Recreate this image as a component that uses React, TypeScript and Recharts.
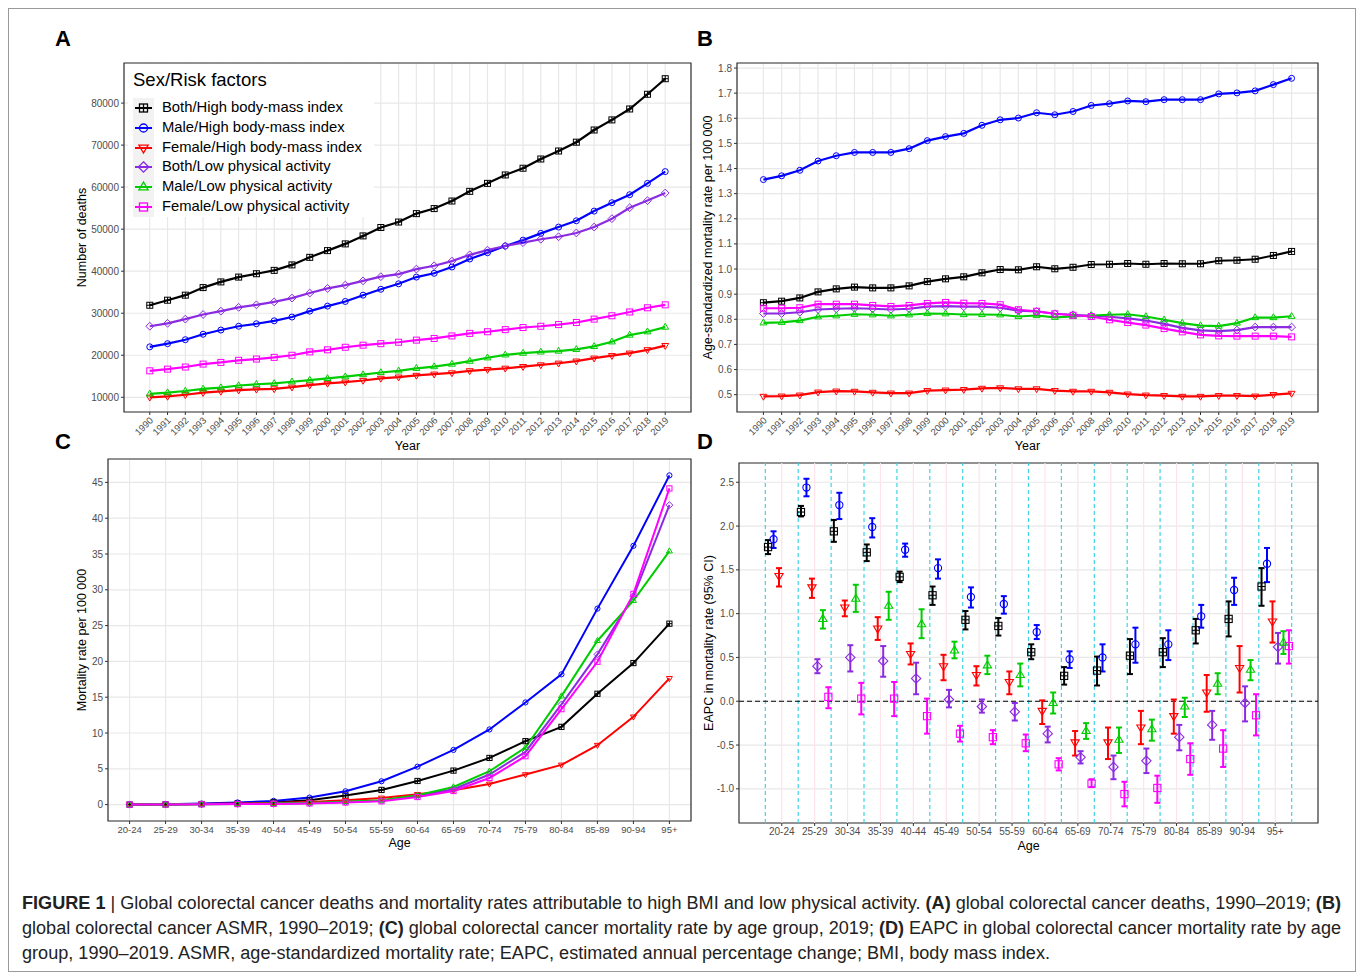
import React from 'react';
import {
  LineChart, Line, XAxis, YAxis, CartesianGrid, ScatterChart, Scatter, ErrorBar,
  ReferenceLine, ReferenceArea,
} from 'recharts';

const FONT = '"Liberation Sans", Arial, Helvetica, sans-serif';

// ---------- categories ----------
const years = [1990, 1991, 1992, 1993, 1994, 1995, 1996, 1997, 1998, 1999, 2000, 2001, 2002, 2003, 2004,
  2005, 2006, 2007, 2008, 2009, 2010, 2011, 2012, 2013, 2014, 2015, 2016, 2017, 2018, 2019];
const ages = ['20-24', '25-29', '30-34', '35-39', '40-44', '45-49', '50-54', '55-59', '60-64', '65-69',
  '70-74', '75-79', '80-84', '85-89', '90-94', '95+'];
const seriesNames = ['Both/High body-mass index', 'Male/High body-mass index', 'Female/High body-mass index',
  'Both/Low physical activity', 'Male/Low physical activity', 'Female/Low physical activity'];
const seriesColors = ['#000000', '#0000FF', '#FF0000', '#8A2BE2', '#00CD00', '#FF00FF'];
const seriesShapes = ['squarePlus', 'circle', 'triDown', 'diamond', 'triUp', 'square'];

// ---------- Panel A: number of deaths ----------
const deathsBothHBMI = [31900, 33100, 34300, 36100, 37450, 38600, 39400, 40200, 41500, 43300, 44900, 46500, 48400, 50400, 51700, 53700, 54900, 56700, 59000, 60900, 62900, 64500, 66700, 68600, 70700, 73600, 76000, 78600, 82100, 85800];
const deathsMaleHBMI = [22000, 22760, 23700, 25000, 26000, 26900, 27500, 28200, 29100, 30500, 31700, 32800, 34300, 35700, 37000, 38600, 39500, 41000, 42900, 44400, 46000, 47400, 49000, 50500, 52000, 54300, 56300, 58200, 60900, 63700];
const deathsFemaleHBMI = [10000, 10200, 10600, 11100, 11400, 11700, 11900, 12000, 12400, 12900, 13300, 13600, 14000, 14500, 14800, 15200, 15500, 15800, 16300, 16600, 16900, 17300, 17700, 18100, 18600, 19300, 19900, 20500, 21300, 22300];
const deathsBothLPA = [26900, 27600, 28600, 29700, 30500, 31400, 32000, 32700, 33600, 34800, 35900, 36700, 37700, 38700, 39300, 40500, 41300, 42400, 43900, 45000, 46000, 46800, 47600, 48200, 49100, 50500, 52500, 55100, 56800, 58600];
const deathsMaleLPA = [10800, 11100, 11500, 12000, 12300, 12800, 13100, 13300, 13700, 14100, 14500, 14900, 15400, 15900, 16300, 16900, 17300, 17900, 18600, 19400, 20100, 20500, 20800, 21000, 21400, 22100, 23200, 24800, 25600, 26700];
const deathsFemaleLPA = [16300, 16700, 17200, 17900, 18300, 18800, 19100, 19500, 20000, 20800, 21300, 21900, 22400, 22760, 23100, 23600, 24000, 24600, 25200, 25600, 26100, 26600, 26900, 27300, 27800, 28600, 29400, 30300, 31300, 32000];
const deathsTicks = [10000, 20000, 30000, 40000, 50000, 60000, 70000, 80000];

// ---------- Panel B: ASMR ----------
const asmrBothHBMI = [0.866, 0.872, 0.885, 0.909, 0.921, 0.928, 0.925, 0.925, 0.933, 0.950, 0.961, 0.969, 0.985, 0.998, 0.997, 1.009, 1.001, 1.007, 1.018, 1.019, 1.022, 1.019, 1.022, 1.021, 1.021, 1.033, 1.035, 1.039, 1.054, 1.070];
const asmrMaleHBMI = [1.356, 1.371, 1.393, 1.430, 1.451, 1.464, 1.464, 1.464, 1.479, 1.511, 1.527, 1.540, 1.572, 1.594, 1.601, 1.622, 1.614, 1.627, 1.651, 1.658, 1.669, 1.666, 1.674, 1.674, 1.674, 1.697, 1.701, 1.709, 1.734, 1.759];
const asmrFemaleHBMI = [0.493, 0.494, 0.498, 0.510, 0.514, 0.513, 0.509, 0.506, 0.506, 0.516, 0.518, 0.520, 0.525, 0.527, 0.523, 0.523, 0.516, 0.513, 0.513, 0.509, 0.502, 0.498, 0.496, 0.493, 0.493, 0.496, 0.496, 0.494, 0.500, 0.505];
const asmrBothLPA = [0.823, 0.823, 0.828, 0.839, 0.842, 0.844, 0.842, 0.839, 0.842, 0.850, 0.852, 0.850, 0.850, 0.846, 0.834, 0.831, 0.822, 0.818, 0.814, 0.810, 0.804, 0.795, 0.782, 0.766, 0.756, 0.753, 0.757, 0.769, 0.769, 0.769];
const asmrMaleLPA = [0.786, 0.788, 0.795, 0.810, 0.814, 0.820, 0.818, 0.814, 0.818, 0.823, 0.822, 0.819, 0.819, 0.818, 0.811, 0.815, 0.808, 0.811, 0.815, 0.818, 0.820, 0.811, 0.798, 0.785, 0.775, 0.773, 0.785, 0.807, 0.807, 0.812];
const asmrFemaleLPA = [0.844, 0.844, 0.846, 0.860, 0.860, 0.860, 0.855, 0.851, 0.855, 0.863, 0.867, 0.864, 0.863, 0.858, 0.838, 0.832, 0.822, 0.816, 0.811, 0.798, 0.787, 0.777, 0.763, 0.750, 0.738, 0.734, 0.733, 0.733, 0.733, 0.730];
const asmrTicks = [0.5, 0.6, 0.7, 0.8, 0.9, 1.0, 1.1, 1.2, 1.3, 1.4, 1.5, 1.6, 1.7, 1.8];

// ---------- Panel C: mortality rate by age, 2019 ----------
const rateBothHBMI = [0.01, 0.03, 0.08, 0.17, 0.33, 0.6, 1.26, 2.05, 3.3, 4.75, 6.52, 8.86, 10.86, 15.48, 19.77, 25.27];
const rateMaleHBMI = [0.01, 0.05, 0.14, 0.3, 0.52, 0.98, 1.86, 3.26, 5.3, 7.64, 10.5, 14.27, 18.19, 27.37, 36.14, 45.98];
const rateFemaleHBMI = [0.01, 0.03, 0.08, 0.14, 0.24, 0.38, 0.6, 0.93, 1.44, 2.0, 2.89, 4.2, 5.54, 8.3, 12.26, 17.63];
const rateBothLPA = [0, 0.02, 0.05, 0.08, 0.12, 0.2, 0.35, 0.55, 1.2, 2.14, 4.2, 7.36, 14.0, 20.99, 29.1, 41.83];
const rateMaleLPA = [0, 0.02, 0.05, 0.09, 0.14, 0.23, 0.4, 0.6, 1.3, 2.46, 4.66, 7.97, 15.15, 22.89, 28.49, 35.4];
const rateFemaleLPA = [0, 0.02, 0.04, 0.07, 0.1, 0.17, 0.3, 0.46, 1.06, 1.9, 3.72, 6.76, 13.33, 19.95, 29.43, 44.16];
const rateTicks = [0, 5, 10, 15, 20, 25, 30, 35, 40, 45];

// ---------- Panel D: EAPC (95% CI) ----------
const eapcBothHBMI = [1.76, 2.16, 1.94, 1.70, 1.42, 1.21, 0.93, 0.86, 0.56, 0.29, 0.35, 0.52, 0.56, 0.81, 0.94, 1.31];
const lowBothHBMI = [1.68, 2.11, 1.82, 1.60, 1.36, 1.10, 0.82, 0.75, 0.48, 0.19, 0.18, 0.31, 0.39, 0.66, 0.74, 1.09];
const upBothHBMI = [1.84, 2.23, 2.07, 1.79, 1.48, 1.31, 1.03, 0.95, 0.65, 0.39, 0.51, 0.71, 0.72, 0.94, 1.14, 1.52];
const eapcMaleHBMI = [1.85, 2.44, 2.24, 1.99, 1.73, 1.52, 1.19, 1.11, 0.79, 0.48, 0.50, 0.65, 0.65, 0.97, 1.27, 1.57];
const lowMaleHBMI = [1.75, 2.34, 2.08, 1.87, 1.65, 1.40, 1.07, 1.00, 0.71, 0.38, 0.34, 0.44, 0.47, 0.84, 1.10, 1.36];
const upMaleHBMI = [1.94, 2.54, 2.38, 2.09, 1.80, 1.62, 1.30, 1.20, 0.87, 0.57, 0.65, 0.84, 0.81, 1.10, 1.41, 1.75];
const eapcFemaleHBMI = [1.43, 1.30, 1.07, 0.83, 0.54, 0.40, 0.30, 0.22, -0.11, -0.47, -0.47, -0.30, -0.17, 0.10, 0.38, 0.91];
const lowFemaleHBMI = [1.31, 1.18, 0.97, 0.70, 0.42, 0.24, 0.18, 0.08, -0.26, -0.62, -0.66, -0.49, -0.37, -0.12, 0.10, 0.67];
const upFemaleHBMI = [1.52, 1.40, 1.15, 0.96, 0.66, 0.53, 0.40, 0.34, 0.01, -0.34, -0.30, -0.11, 0.02, 0.30, 0.63, 1.14];
// low physical activity: age groups 25-29 .. 95+
const eapcBothLPA = [0.40, 0.50, 0.46, 0.26, 0.02, -0.06, -0.12, -0.37, -0.64, -0.75, -0.68, -0.41, -0.27, -0.02, 0.62];
const lowBothLPA = [0.32, 0.34, 0.28, 0.08, -0.07, -0.13, -0.22, -0.47, -0.71, -0.89, -0.82, -0.56, -0.44, -0.23, 0.43];
const upBothLPA = [0.48, 0.64, 0.63, 0.44, 0.13, 0.02, -0.02, -0.29, -0.57, -0.62, -0.54, -0.27, -0.11, 0.17, 0.78];
const eapcMaleLPA = [0.94, 1.17, 1.09, 0.88, 0.58, 0.41, 0.30, -0.02, -0.34, -0.44, -0.32, -0.06, 0.20, 0.36, 0.67];
const lowMaleLPA = [0.83, 1.02, 0.93, 0.72, 0.49, 0.31, 0.17, -0.14, -0.43, -0.59, -0.45, -0.18, 0.08, 0.24, 0.54];
const upMaleLPA = [1.04, 1.33, 1.25, 1.05, 0.68, 0.52, 0.43, 0.10, -0.25, -0.30, -0.21, 0.04, 0.32, 0.47, 0.80];
const eapcFemaleLPA = [0.05, 0.03, 0.03, -0.17, -0.37, -0.41, -0.48, -0.72, -0.94, -1.06, -0.99, -0.66, -0.54, -0.16, 0.63];
const lowFemaleLPA = [-0.08, -0.15, -0.17, -0.37, -0.46, -0.49, -0.57, -0.79, -0.98, -1.20, -1.16, -0.84, -0.75, -0.39, 0.43];
const upFemaleLPA = [0.16, 0.21, 0.22, 0.03, -0.28, -0.33, -0.38, -0.65, -0.89, -0.92, -0.85, -0.48, -0.33, 0.08, 0.81];
const eapcTicks = [-1.0, -0.5, 0.0, 0.5, 1.0, 1.5, 2.0, 2.5];

// ---------- tables built from arrays ----------
const deathsSeries = [deathsBothHBMI, deathsMaleHBMI, deathsFemaleHBMI, deathsBothLPA, deathsMaleLPA, deathsFemaleLPA];
const asmrSeries = [asmrBothHBMI, asmrMaleHBMI, asmrFemaleHBMI, asmrBothLPA, asmrMaleLPA, asmrFemaleLPA];
const rateSeries = [rateBothHBMI, rateMaleHBMI, rateFemaleHBMI, rateBothLPA, rateMaleLPA, rateFemaleLPA];
const rowsA = years.map((yr, i) => {
  const r: any = { x: yr };
  deathsSeries.forEach((s, j) => { r['s' + j] = s[i]; });
  return r;
});
const rowsB = years.map((yr, i) => {
  const r: any = { x: yr };
  asmrSeries.forEach((s, j) => { r['s' + j] = s[i]; });
  return r;
});
const rowsC = ages.map((_, i) => {
  const r: any = { x: i + 1 };
  rateSeries.forEach((s, j) => { r['s' + j] = s[i]; });
  return r;
});
const eapcSets = [
  [eapcBothHBMI, lowBothHBMI, upBothHBMI, 0],
  [eapcMaleHBMI, lowMaleHBMI, upMaleHBMI, 0],
  [eapcFemaleHBMI, lowFemaleHBMI, upFemaleHBMI, 0],
  [eapcBothLPA, lowBothLPA, upBothLPA, 1],
  [eapcMaleLPA, lowMaleLPA, upMaleLPA, 1],
  [eapcFemaleLPA, lowFemaleLPA, upFemaleLPA, 1],
] as any[];
const dodge = 1 / 6;
const rowsD = eapcSets.map(([c, lo, up, start], j) =>
  (c as number[]).map((v, k) => ({
    x: k + 1 + start + (j - 2.5) * dodge,
    y: v,
    err: [v - lo[k], up[k] - v],
  })));

// ---------- drawing helpers ----------
function Marker({ cx, cy, shape, color, r, sw = 1 }: any) {
  if (cx == null || cy == null || isNaN(cx) || isNaN(cy)) return null;
  const common = { fill: 'none', stroke: color, strokeWidth: sw };
  switch (shape) {
    case 'squarePlus':
      return (
        <g>
          <rect x={cx - r} y={cy - r} width={2 * r} height={2 * r} {...common} />
          <line x1={cx - r} x2={cx + r} y1={cy} y2={cy} {...common} />
          <line x1={cx} x2={cx} y1={cy - r} y2={cy + r} {...common} />
        </g>
      );
    case 'square':
      return <rect x={cx - r} y={cy - r} width={2 * r} height={2 * r} {...common} />;
    case 'circle':
      return <circle cx={cx} cy={cy} r={r} {...common} />;
    case 'triDown':
      return <polygon points={`${cx - r * 1.15},${cy - r * 0.7} ${cx + r * 1.15},${cy - r * 0.7} ${cx},${cy + r * 1.25}`} {...common} />;
    case 'triUp':
      return <polygon points={`${cx - r * 1.15},${cy + r * 0.7} ${cx + r * 1.15},${cy + r * 0.7} ${cx},${cy - r * 1.25}`} {...common} />;
    case 'diamond':
      return <polygon points={`${cx},${cy - r * 1.3} ${cx + r * 1.3},${cy} ${cx},${cy + r * 1.3} ${cx - r * 1.3},${cy}`} {...common} />;
    default:
      return null;
  }
}

const xTitle = (text: string, dy: number) => (props: any) => {
  const vb = props.viewBox || {};
  const cx = vb.x + vb.width / 2;
  const cy = vb.y + dy;
  return <text x={cx} y={cy} textAnchor="middle" dominantBaseline="central" fontSize={12.5} fill="#000">{text}</text>;
};
const yTitle = (text: string, dx: number) => (props: any) => {
  const vb = props.viewBox || {};
  const cx = vb.x + dx;
  const cy = vb.y + vb.height / 2;
  return (
    <text x={cx} y={cy} transform={`rotate(-90 ${cx} ${cy})`} textAnchor="middle" dominantBaseline="central" fontSize={12.5} fill="#000">{text}</text>
  );
};

const YearTick = (props: any) => {
  const { x, y, payload } = props;
  const tx = x + 4;
  const ty = y + 4;
  return (
    <text x={tx} y={ty} transform={`rotate(-45 ${tx} ${ty})`} textAnchor="end" fontSize={9.5} fill="#4d4d4d">{payload.value}</text>
  );
};

const GRID = '#e8e8e8';
const BORDER = '#333333';
const TICK = { fontSize: 10, fill: '#4d4d4d' };

function Letter({ x, y, t }: any) {
  return <div style={{ position: 'absolute', left: x, top: y, fontSize: 22, fontWeight: 'bold', fontFamily: FONT, lineHeight: '22px' }}>{t}</div>;
}

function Legend() {
  return (
    <div style={{ position: 'absolute', left: 128, top: 64, width: 246, height: 153, background: '#fff', fontFamily: FONT }}>
      <div style={{ position: 'absolute', left: 5, top: 5, fontSize: 18.5, lineHeight: '22px', color: '#000' }}>Sex/Risk factors</div>
      <div style={{ position: 'absolute', left: 5, top: 34, width: 21, height: 119, background: '#f2f2f2' }} />
      {seriesNames.map((n, j) => (
        <div key={n} style={{ position: 'absolute', left: 5, top: 34 + j * 19.8, height: 19.8, width: 240 }}>
          <svg width={21} height={19.8} style={{ position: 'absolute', left: 0, top: 0 }}>
            <line x1={2} x2={19} y1={10} y2={10} stroke={seriesColors[j]} strokeWidth={2} />
            <Marker cx={10.5} cy={10} shape={seriesShapes[j]} color={seriesColors[j]} r={4} sw={1.3} />
          </svg>
          <div style={{ position: 'absolute', left: 29, top: 0, fontSize: 14.8, lineHeight: '19.8px', color: '#000', whiteSpace: 'nowrap' }}>{n}</div>
        </div>
      ))}
    </div>
  );
}

function YearPanel({ left, top, rows, yDomain, yTicks, yWidth, mRight, yLabel, yLabelDx, fmt }: any) {
  return (
    <div style={{ position: 'absolute', left, top, fontFamily: FONT }}>
      <LineChart width={640} height={400} data={rows} margin={{ top: 8, right: mRight, bottom: 0, left: 0 }}>
        <CartesianGrid stroke={GRID} strokeWidth={1.2} />
        <XAxis type="number" dataKey="x" domain={[1988.55, 2020.45]} ticks={years} interval={0} allowDataOverflow
          height={43} axisLine={false} tickSize={3} stroke={BORDER} tick={<YearTick />}
          label={{ value: 'Year', content: xTitle('Year', 34) }} />
        <YAxis type="number" domain={yDomain} ticks={yTicks} interval={0} allowDataOverflow width={yWidth}
          axisLine={false} tickSize={3} stroke={BORDER} tick={TICK} tickFormatter={fmt}
          label={{ value: yLabel, content: yTitle(yLabel, yLabelDx) }} />
        <ReferenceArea x1={1988.55} x2={2020.45} y1={yDomain[0]} y2={yDomain[1]} fill="none" stroke={BORDER} strokeWidth={1.2} ifOverflow="visible" />
        {seriesNames.map((n, j) => (
          <Line key={n} dataKey={'s' + j} name={n} stroke={seriesColors[j]} strokeWidth={2.2} isAnimationActive={false}
            dot={(p: any) => <Marker key={'d' + j + '-' + p.index} cx={p.cx} cy={p.cy} shape={seriesShapes[j]} color={seriesColors[j]} r={3} sw={1} />}
            activeDot={false} />
        ))}
      </LineChart>
    </div>
  );
}

function PanelC() {
  const dom = [0.4, 16.6];
  const yd = [-2.29, 48.27];
  return (
    <div style={{ position: 'absolute', left: 60, top: 450, fontFamily: FONT }}>
      <LineChart width={640} height={410} data={rowsC} margin={{ top: 9, right: 9, bottom: 0, left: 0 }}>
        <CartesianGrid stroke={GRID} strokeWidth={1.2} />
        <XAxis type="number" dataKey="x" domain={dom} ticks={ages.map((_, i) => i + 1)} interval={0} allowDataOverflow
          height={39} axisLine={false} tickSize={3} stroke={BORDER} tick={{ fontSize: 9.5, fill: '#4d4d4d' }}
          tickFormatter={(v: number) => ages[Math.round(v) - 1]}
          label={{ value: 'Age', content: xTitle('Age', 22) }} />
        <YAxis type="number" domain={yd} ticks={rateTicks} interval={0} allowDataOverflow width={48}
          axisLine={false} tickSize={3} stroke={BORDER} tick={TICK}
          label={{ value: 'Mortality rate per 100 000', content: yTitle('Mortality rate per 100 000', 22) }} />
        <ReferenceArea x1={dom[0]} x2={dom[1]} y1={yd[0]} y2={yd[1]} fill="none" stroke={BORDER} strokeWidth={1.2} ifOverflow="visible" />
        {seriesNames.map((n, j) => (
          <Line key={n} dataKey={'s' + j} name={n} stroke={seriesColors[j]} strokeWidth={2} isAnimationActive={false}
            dot={(p: any) => <Marker key={'c' + j + '-' + p.index} cx={p.cx} cy={p.cy} shape={seriesShapes[j]} color={seriesColors[j]} r={2.6} sw={1} />}
            activeDot={false} />
        ))}
      </LineChart>
    </div>
  );
}

function PanelD() {
  const dom = [-0.3, 17.3];
  const yd = [-1.39, 2.72];
  const bounds = ages.map((_, i) => i + 0.5).concat([ages.length + 0.5]);
  return (
    <div style={{ position: 'absolute', left: 690, top: 450, fontFamily: FONT }}>
      <ScatterChart width={640} height={410} margin={{ top: 13, right: 12, bottom: 0, left: 0 }}>
        <CartesianGrid stroke={GRID} strokeWidth={1.2} vertical={false} />
        <XAxis type="number" dataKey="x" domain={dom} ticks={ages.map((_, i) => i + 1)} interval={0} allowDataOverflow
          height={37} axisLine={false} tickSize={3} stroke={BORDER} tick={{ fontSize: 10, fill: '#4d4d4d' }}
          tickFormatter={(v: number) => ages[Math.round(v) - 1]}
          label={{ value: 'Age', content: xTitle('Age', 23) }} />
        <YAxis type="number" dataKey="y" domain={yd} ticks={eapcTicks} interval={0} allowDataOverflow width={49}
          axisLine={false} tickSize={3} stroke={BORDER} tick={TICK} tickFormatter={(v: number) => v.toFixed(1)}
          label={{ value: 'EAPC in mortality rate (95% CI)', content: yTitle('EAPC in mortality rate (95% CI)', 19) }} />
        {ages.map((a, i) => (
          <ReferenceLine key={'p' + a} x={i + 1} stroke="#fde3ea" strokeWidth={1.2} />
        ))}
        {bounds.map((b) => (
          <ReferenceLine key={'b' + b} x={b} stroke="#3fd3e6" strokeWidth={1.2} strokeDasharray="4 3" />
        ))}
        <ReferenceLine y={0} stroke="#000" strokeWidth={1.2} strokeDasharray="5 3" />
        {rowsD.map((data, j) => (
          <Scatter key={seriesNames[j]} name={seriesNames[j]} data={data} isAnimationActive={false}
            shape={(p: any) => <Marker cx={p.cx} cy={p.cy} shape={seriesShapes[j]} color={seriesColors[j]} r={3.6} sw={1.1} />}>
            <ErrorBar dataKey="err" direction="y" width={3} strokeWidth={2} stroke={seriesColors[j]} isAnimationActive={false} />
          </Scatter>
        ))}
        <ReferenceArea x1={dom[0]} x2={dom[1]} y1={yd[0]} y2={yd[1]} fill="none" stroke={BORDER} strokeWidth={1.2} ifOverflow="visible" />
      </ScatterChart>
    </div>
  );
}

function Caption() {
  const fill = '#222';
  return (
    <svg width={1357} height={94} style={{ position: 'absolute', left: 0, top: 880, fontFamily: FONT }}>
      <text x={22} y={29} fontSize={18} fill={fill} textLength={1319} lengthAdjust="spacingAndGlyphs">
        <tspan fontWeight="bold">FIGURE 1</tspan>
        <tspan> | Global colorectal cancer deaths and mortality rates attributable to high BMI and low physical activity. </tspan>
        <tspan fontWeight="bold">(A)</tspan>
        <tspan> global colorectal cancer deaths, 1990–2019; </tspan>
        <tspan fontWeight="bold">(B)</tspan>
      </text>
      <text x={22} y={54} fontSize={18} fill={fill} textLength={1319} lengthAdjust="spacingAndGlyphs">
        <tspan>global colorectal cancer ASMR, 1990–2019; </tspan>
        <tspan fontWeight="bold">(C)</tspan>
        <tspan> global colorectal cancer mortality rate by age group, 2019; </tspan>
        <tspan fontWeight="bold">(D)</tspan>
        <tspan> EAPC in global colorectal cancer mortality rate by age</tspan>
      </text>
      <text x={22} y={79} fontSize={18} fill={fill} textLength={1028} lengthAdjust="spacingAndGlyphs">
        group, 1990–2019. ASMR, age-standardized mortality rate; EAPC, estimated annual percentage change; BMI, body mass index.
      </text>
    </svg>
  );
}

export default function App() {
  return (
    <div style={{ position: 'absolute', left: 0, top: 0, width: 1357, height: 974, background: '#fff', fontFamily: FONT }}>
      <div style={{ position: 'absolute', left: 8, top: 8, width: 1346, height: 962, border: '1px solid #9a9a9a' }} />
      <Letter x={55} y={28} t="A" />
      <Letter x={697} y={28} t="B" />
      <Letter x={55} y={431} t="C" />
      <Letter x={697} y={431} t="D" />
      <YearPanel left={60} top={55} rows={rowsA} yDomain={[6500, 89540]} yTicks={deathsTicks} yWidth={64} mRight={9}
        yLabel="Number of deaths" yLabelDx={22} fmt={(v: number) => String(v)} />
      <Legend />
      <YearPanel left={690} top={55} rows={rowsB} yDomain={[0.431, 1.82]} yTicks={asmrTicks} yWidth={47} mRight={12}
        yLabel="Age-standardized mortality rate per 100 000" yLabelDx={18} fmt={(v: number) => v.toFixed(1)} />
      <PanelC />
      <PanelD />
      <Caption />
    </div>
  );
}
